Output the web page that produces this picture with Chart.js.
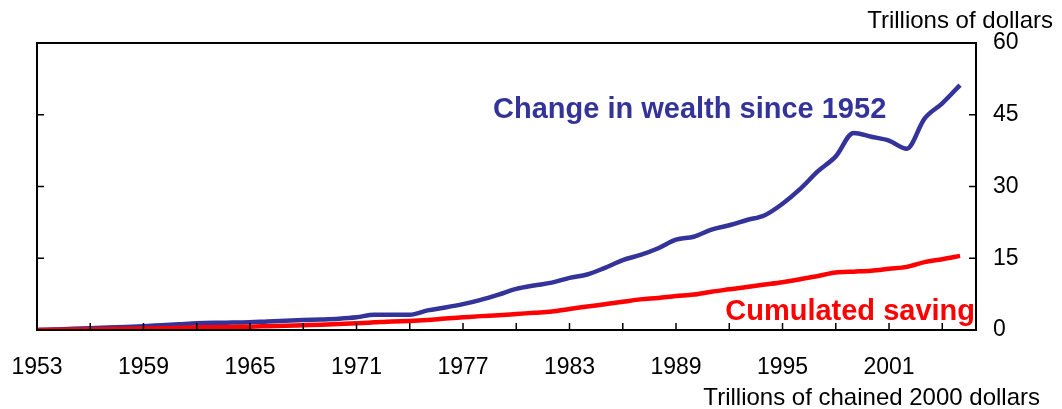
<!DOCTYPE html>
<html>
<head>
<meta charset="utf-8">
<script src="https://cdn.jsdelivr.net/npm/chart.js@4"></script>
<style>
  html, body { margin: 0; padding: 0; background: #fff; }
</style>
</head>
<body>
<canvas id="chartWealth" width="1062" height="409"></canvas>
<script>
// annual readings, trillions of dollars
const years = [
  1953, 1954, 1955, 1956, 1957, 1958, 1959, 1960, 1961, 1962,
  1963, 1964, 1965, 1966, 1967, 1968, 1969, 1970, 1971, 1972,
  1973, 1974, 1975, 1976, 1977, 1978, 1979, 1980, 1981, 1982,
  1983, 1984, 1985, 1986, 1987, 1988, 1989, 1990, 1991, 1992,
  1993, 1994, 1995, 1996, 1997, 1998, 1999, 2000, 2001, 2002,
  2003, 2004, 2005,
];
const wealthChange = [
  0, 0.1, 0.25, 0.35, 0.5, 0.65, 0.8, 1.0, 1.2, 1.4,
  1.5, 1.55, 1.6, 1.8, 1.95, 2.1, 2.2, 2.35, 2.65, 3.2,
  3.2, 3.2, 4.1, 4.7, 5.4, 6.3, 7.4, 8.6, 9.3, 9.9,
  10.9, 11.6, 13.0, 14.6, 15.7, 17.1, 18.9, 19.5, 21.0, 21.9,
  23.0, 24.0, 26.4, 29.5, 33.2, 36.3, 41.2, 40.4, 39.6, 37.9,
  44.2, 47.4, 51.2,
];
const cumulatedSaving = [
  0, 0.05, 0.1, 0.15, 0.2, 0.25, 0.3, 0.35, 0.45, 0.55,
  0.6, 0.65, 0.7, 0.8, 0.9, 1.0, 1.1, 1.25, 1.4, 1.6,
  1.8, 1.9, 2.1, 2.4, 2.65, 2.9, 3.1, 3.35, 3.6, 3.85,
  4.4, 4.9, 5.4, 5.9, 6.4, 6.7, 7.1, 7.4, 8.0, 8.5,
  9.0, 9.5, 10.0, 10.6, 11.3, 12.0, 12.2, 12.4, 12.8, 13.2,
  14.2, 14.8, 15.5,
];
const firstYear = 1953;
const lastYear = 2005.9;
const tickStep = 3;   // tick marks every 3 years
const labelStep = 6;  // year labels every 6 years
const yMax = 60;
const yStep = 15;

const blue = "#333399";
const red = "#ff0000";
const font = "'Liberation Sans', Arial, sans-serif";

const toPoints = (vals) => vals.map((v, i) => ({ x: years[i], y: v }));

// box, inward tick marks and the text labels
const frame = {
  id: "frame",
  afterDatasetsDraw(chart) {
    const { ctx, chartArea: a, scales } = chart;
    ctx.save();
    ctx.strokeStyle = "#000";
    ctx.lineWidth = 2;
    ctx.strokeRect(a.left, a.top, a.right - a.left, a.bottom - a.top);

    ctx.lineWidth = 1.5;
    ctx.beginPath();
    scales.x.ticks.forEach((t) => {
      const px = scales.x.getPixelForValue(t.value);
      ctx.moveTo(px, a.bottom);
      ctx.lineTo(px, a.bottom - 7);
    });
    scales.y.ticks.forEach((t) => {
      const py = scales.y.getPixelForValue(t.value);
      ctx.moveTo(a.left, py);
      ctx.lineTo(a.left + 7, py);
      ctx.moveTo(a.right, py);
      ctx.lineTo(a.right - 7, py);
    });
    ctx.stroke();

    ctx.textBaseline = "alphabetic";
    ctx.fillStyle = blue;
    ctx.font = "bold 29px " + font;
    ctx.textAlign = "left";
    ctx.fillText("Change in wealth since 1952", 493, 118);

    ctx.fillStyle = red;
    ctx.textAlign = "right";
    ctx.fillText("Cumulated saving", 975, 320);

    ctx.fillStyle = "#000";
    ctx.font = "24px " + font;
    ctx.fillText("Trillions of dollars", 1053, 28);
    ctx.fillText("Trillions of chained 2000 dollars", 1040, 405);
    ctx.restore();
  },
};

const ctx = document.getElementById("chartWealth");

const myChart = new Chart(ctx, {
  type: "line",
  data: {
    datasets: [
      {
        label: "Cumulated saving",
        data: toPoints(cumulatedSaving),
        borderColor: red,
        borderWidth: 4.5,
        pointRadius: 0,
        cubicInterpolationMode: "monotone",
      },
      {
        label: "Change in wealth since 1952",
        data: toPoints(wealthChange),
        borderColor: blue,
        borderWidth: 4.5,
        pointRadius: 0,
        cubicInterpolationMode: "monotone",
      },
    ],
  },
  options: {
    responsive: false,
    animation: false,
    layout: { padding: { left: 37, top: 43, right: 0, bottom: 0 } },
    plugins: {
      legend: { display: false },
      tooltip: { enabled: false },
    },
    scales: {
      x: {
        type: "linear",
        min: firstYear,
        max: lastYear,
        grid: { display: false, drawTicks: false },
        border: { display: false },
        afterFit: (scale) => {
          scale.height = 79;
          scale.paddingLeft = 0;
          scale.paddingRight = 0;
        },
        ticks: {
          stepSize: tickStep,
          includeBounds: false,
          autoSkip: false,
          maxRotation: 0,
          padding: 24,
          color: "#000",
          font: { family: font, size: 23 },
          callback: (v) => ((v - firstYear) % labelStep === 0 ? String(v) : ""),
        },
      },
      y: {
        position: "right",
        min: 0,
        max: yMax,
        grid: { display: false, drawTicks: false },
        border: { display: false },
        afterFit: (scale) => {
          scale.width = 86;
          scale.paddingTop = 0;
          scale.paddingBottom = 0;
        },
        ticks: {
          stepSize: yStep,
          padding: 17,
          color: "#000",
          font: { family: font, size: 23 },
        },
      },
    },
  },
  plugins: [frame],
});
</script>
</body>
</html>
